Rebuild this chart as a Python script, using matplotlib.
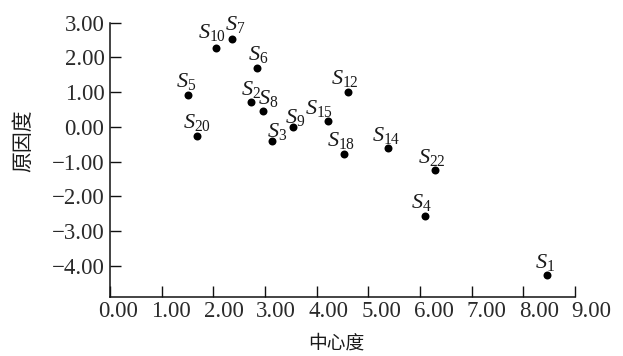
import matplotlib
matplotlib.use("Agg")
import matplotlib.pyplot as plt
from matplotlib.transforms import ScaledTranslation

# ---- data ----
ids = [10, 7, 6, 5, 2, 8, 20, 3, 9, 12, 15, 18, 14, 22, 4, 1]
centrality = [2.05, 2.37, 2.84, 1.50, 2.73, 2.97, 1.68, 3.14, 3.55,
              4.60, 4.21, 4.52, 5.39, 6.29, 6.09, 8.46]
causality = [2.27, 2.53, 1.69, 0.93, 0.71, 0.46, -0.25, -0.42, 0.01,
             1.00, 0.17, -0.77, -0.62, -1.24, -2.56, -4.26]
xticks = [0, 1, 2, 3, 4, 5, 6, 7, 8, 9]
yticks = [-4, -3, -2, -1, 0, 1, 2, 3]
xlabel = "中心度"
ylabel = "原因度"

# label offsets in pixels (dx, dy)
label_offsets = [(-3.5, 10), (3, 9), (1.5, 8), (-1, 7.7), (0, 7), (5, 7),
                 (0, 8), (5, 4.7), (2, 4), (-2.7, 8), (-8, 6.7), (-2.5, 7.7),
                 (-2.7, 7.7), (-2.7, 7.3), (-3, 7.7), (-1.7, 7)]

plt.rcParams['mathtext.fontset'] = 'custom'
plt.rcParams['mathtext.rm'] = 'Liberation Serif'
plt.rcParams['mathtext.it'] = 'Liberation Serif:italic'
plt.rcParams['font.family'] = ['Liberation Serif', 'Noto Sans CJK SC', 'DejaVu Sans']

W, H = 623, 356
fig = plt.figure(figsize=(W / 100, H / 100), dpi=100)
left, right, top, bottom = 110, 575, 22.7, 297
ax = fig.add_axes([left / W, 1 - bottom / H, (right - left) / W, (bottom - top) / H])

ax.scatter(centrality, causality, s=33, color='black', zorder=3, linewidths=0)
for i, x, y, (dx, dy) in zip(ids, centrality, causality, label_offsets):
    ax.annotate(r'$S_{%d}$' % i, (x, y), xytext=(dx, dy), textcoords='offset pixels',
                ha='center', va='baseline', fontsize=16, color='#1a1a1a')

ax.set_xlim(0, 9)
ax.set_ylim(-4.9, 3.0)
ax.set_xticks(xticks)
ax.set_xticklabels(['%.2f' % v for v in xticks])
ax.set_yticks(yticks)
ax.set_yticklabels([('%.2f' % v).replace('-', '\u2212') for v in yticks])

for s in ['top', 'right']:
    ax.spines[s].set_visible(False)
for s in ['left', 'bottom']:
    ax.spines[s].set_linewidth(1.1)
    ax.spines[s].set_color('#111111')

ax.tick_params(axis='both', direction='in', length=8, width=1.0, color='#111111',
               labelsize=16.5, labelcolor='#2a2a2a')
ax.tick_params(axis='x', pad=3)
ax.tick_params(axis='y', pad=4)

for k, lbl in enumerate(ax.get_xticklabels()):
    off = (8.3 + 0.93 * k) / 100
    lbl.set_transform(lbl.get_transform() + ScaledTranslation(off, 0, fig.dpi_scale_trans))

fig.text(336.7 / W, 1 - 343 / H, xlabel, ha='center', va='center', fontsize=13.5,
         family=['Noto Sans CJK SC'], color='#1a1a1a')
fig.text(23 / W, 1 - 141 / H, ylabel, ha='center', va='center', fontsize=15, rotation=90,
         family=['Noto Sans CJK SC'], color='#1a1a1a')

fig.savefig('out.png', dpi=100)
